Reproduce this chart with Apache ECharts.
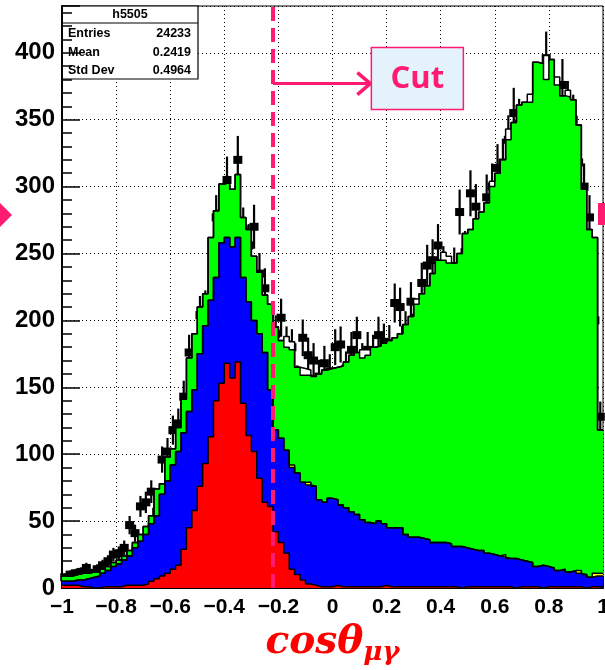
<!DOCTYPE html>
<html>
<head>
<meta charset="utf-8">
<title>cos theta mu gamma</title>
<script src="https://cdn.jsdelivr.net/npm/echarts@6/dist/echarts.min.js"></script>
<style>
  html, body { margin: 0; padding: 0; background: #fff; }
  #main { width: 605px; height: 670px; }
</style>
</head>
<body>
<div id="main"></div>
<script>
// histogram: 100 bins on [-1, 1]
var binLow = -1, binHigh = 1, nBins = 100;

// stacked MC, read as the top edge of each layer
var redTop = [
  2, 2, 2, 1, 1, 0, 0, 1, 1, 1,
  1, 2, 2, 2, 2, 3, 5, 7, 9, 11,
  14, 17, 29, 45, 58, 76, 93, 113, 140, 153,
  168, 157, 169, 138, 114, 102, 82, 64, 61, 42,
  34, 26, 14, 10, 6, 3, 2, 1, 1, 1,
  2, 1, 1, 1, 1, 1, 1, 1, 1, 2,
  1, 1, 1, 1, 1, 1, 1, 1, 1, 1,
  1, 1, 1, 0, 1, 1, 1, 1, 1, 1,
  1, 1, 1, 0, 1, 1, 1, 1, 0, 1,
  1, 1, 1, 1, 1, 1, 0, 1, 1, 1
];
var blueTop = [
  5, 5, 6, 6, 7, 8, 9, 11, 13, 16,
  18, 21, 24, 30, 35, 40, 48, 54, 70, 80,
  92, 102, 116, 132, 148, 175, 196, 215, 232, 258,
  262, 255, 262, 232, 214, 200, 190, 176, 148, 118,
  112, 103, 90, 86, 79, 77, 76, 66, 64, 67,
  66, 62, 60, 57, 55, 51, 49, 48, 50, 48,
  45, 45, 45, 40, 38, 38, 37, 36, 34, 34,
  34, 33, 31, 31, 30, 29, 28, 28, 26, 25,
  24, 23, 22, 22, 21, 20, 19, 16, 17, 16,
  15, 13, 14, 12, 13, 11, 10, 8, 9, 9
];
// thin yellow slice sitting on the blue one
var yellowPart = [
  0, 0, 0, 0, 0, 0, 0, 0, 0, 0,
  0, 0, 0, 0, 0, 0, 0, 0, 0, 0,
  0, 0, 0, 0, 0, 0, 0, 0, 0, 0,
  0, 0, 0, 0, 0, 0, 0, 0, 0, 0,
  0, 0, 2, 0, 0, 2, 0, 0, 0, 0,
  0, 0, 0, 0, 0, 0, 0, 0, 0, 0,
  0, 0, 0, 0, 0, 0, 0, 0, 0, 0,
  0, 0, 0, 0, 0, 0, 0, 0, 0, 0,
  0, 2, 0, 0, 0, 0, 0, 0, 0, 0,
  0, 0, 0, 0, 0, 2, 0, 0, 2, 2
];
var greenTop = [
  9, 9, 10, 11, 11, 12, 12, 14, 16, 19,
  21, 24, 28, 34, 40, 46, 54, 74, 78, 98,
  104, 120, 141, 172, 190, 210, 220, 262, 282, 302,
  303, 298, 309, 277, 268, 248, 236, 219, 212, 195,
  185, 180, 178, 165, 159, 159, 158, 160, 163, 164,
  165, 166, 169, 174, 176, 172, 174, 180, 181, 183,
  185, 187, 190, 197, 203, 212, 220, 226, 235, 245,
  245, 243, 243, 250, 265, 268, 276, 281, 288, 300,
  310, 320, 335, 348, 361, 363, 363, 393, 392, 380,
  395, 376, 368, 367, 365, 346, 298, 268, 262, 118
];
// white (unfilled) slice on top of the stack
var whitePart = [
  0, 0, 0, 0, 0, 0, 0, 0, 0, 0,
  0, 0, 0, 0, 0, 0, 0, 0, 0, 0,
  0, 0, 0, 0, 0, 0, 0, 0, 0, 0,
  0, 0, 0, 0, 0, 0, 0, 0, 0, 0,
  0, 8, 6, 0, 5, 4, 0, 0, 0, 0,
  0, 0, 0, 0, 0, 6, 4, 0, 0, 0,
  0, 0, 0, 0, 0, 4, 0, 0, 0, 0,
  6, 5, 0, 0, 0, 0, 0, 0, 0, 4,
  0, 0, 8, 0, 0, 0, 6, 0, 0, 18,
  0, 6, 0, 5, 0, 0, 0, 0, 0, 0
];
// data points
var dataCounts = [
  8, 10, 11, 12, 15, 11, 14, 17, 20, 25,
  26, 30, 47, 41, 61, 64, 72, 57, 96, 102,
  118, 123, 143, 176, 153, 204, 208, 206, 277, 280,
  305, 278, 320, 268, 256, 270, 235, 224, 183, 190,
  202, 182, 180, 154, 187, 174, 170, 158, 168, 162,
  180, 182, 164, 178, 189, 170, 178, 176, 189, 184,
  183, 213, 210, 193, 214, 202, 228, 241, 245, 256,
  240, 215, 239, 281, 251, 295, 285, 262, 292, 300,
  314, 318, 335, 355, 347, 334, 340, 366, 352, 396,
  368, 352, 376, 360, 350, 318, 300, 277, 200, 128
];

var statsTitle = "h5505";
var statsRows = [["Entries", "24233"], ["Mean", "0.2419"], ["Std Dev", "0.4964"]];

var cutValue = -0.22;
var arrowEnd = 0.14;
var arrowLevel = 377;
var pink = "#ff1a72";

var edges = [];
var centers = [];
for (var i = 0; i <= nBins; i++) {
  edges.push(binLow + (i * (binHigh - binLow)) / nBins);
}
for (var j = 0; j < nBins; j++) {
  centers.push((edges[j] + edges[j + 1]) / 2);
}

function stepData(vals) {
  var d = vals.map(function (v, k) { return [edges[k], v]; });
  d.push([edges[nBins], vals[nBins - 1]]);
  return d;
}

var yellowTop = blueTop.map(function (v, k) { return v + yellowPart[k]; });
var whiteTop = greenTop.map(function (v, k) { return v + whitePart[k]; });

function histSeries(name, vals, color) {
  return {
    name: name,
    type: "line",
    step: "end",
    symbol: "none",
    silent: true,
    data: stepData(vals),
    lineStyle: { color: "#000", width: 1.5 },
    areaStyle: { color: color, opacity: 1, origin: "start" },
  };
}

var font = "Liberation Sans, Arial, sans-serif";

var chart = echarts.init(document.getElementById("main"));

var option = {
  animation: false,
  backgroundColor: "#fff",
  grid: {
    left: 62,
    right: 2,
    top: 6,
    bottom: 82,
    show: true,
    borderColor: "#000",
    borderWidth: 1,
    containLabel: false,
    outerBoundsMode: "none",
  },
  xAxis: {
    type: "value",
    min: -1,
    max: 1,
    interval: 0.2,
    axisLine: { onZero: false, lineStyle: { color: "#000", width: 2 } },
    axisTick: { inside: true, length: 12, lineStyle: { color: "#000" } },
    splitLine: { show: true, lineStyle: { color: "#000", type: [1, 3], width: 1 } },
    axisLabel: {
      margin: 9,
      color: "#000",
      fontFamily: font,
      fontWeight: "bold",
      fontSize: 21,
      formatter: function (v) {
        var r = Math.round(v * 10) / 10;
        return r < 0 ? "\u2212" + Math.abs(r) : String(r);
      },
    },
    name: "{a|cos\u03b8}{b|\u03bc\u03b3}",
    nameLocation: "middle",
    nameGap: 28,
    nameTextStyle: {
      rich: {
        a: { fontFamily: "DejaVu Serif", fontStyle: "italic", fontWeight: "bold", fontSize: 39, color: "#ff0000" },
        b: { fontFamily: "DejaVu Serif", fontStyle: "italic", fontWeight: "bold", fontSize: 26, color: "#ff0000", padding: [22, 0, 0, 0] },
      },
    },
  },
  yAxis: {
    type: "value",
    min: 0,
    max: 435,
    interval: 50,
    axisLine: { show: true, onZero: false, lineStyle: { color: "#000", width: 2 } },
    axisTick: { inside: true, length: 18, lineStyle: { color: "#000", width: 1.5 } },
    minorTick: { show: true, splitNumber: 5, length: 10, lineStyle: { color: "#000", width: 1.5 } },
    splitLine: { show: true, lineStyle: { color: "#000", type: [1, 3], width: 1 } },
    axisLabel: {
      margin: 7,
      color: "#000",
      fontFamily: font,
      fontWeight: "bold",
      fontSize: 24,
      showMaxLabel: false,
      formatter: function (v) { return v % 50 === 0 ? String(v) : ""; },
    },
  },
  series: [
    histSeries("top", whiteTop, "#ffffff"),
    histSeries("green", greenTop, "#00ff00"),
    histSeries("yellow", yellowTop, "#ffff00"),
    histSeries("blue", blueTop, "#0000ff"),
    histSeries("red", redTop, "#ff0000"),
    {
      name: "errors",
      type: "custom",
      silent: true,
      clip: true,
      renderItem: function (params, api) {
        var x = api.value(0), v = api.value(1), e = api.value(2);
        var lo = api.coord([x, v - e]);
        var hi = api.coord([x, v + e]);
        return {
          type: "line",
          shape: { x1: lo[0], y1: lo[1], x2: hi[0], y2: hi[1] },
          style: { stroke: "#000", lineWidth: 2.2 },
        };
      },
      data: dataCounts.map(function (v, k) { return [centers[k], v, Math.sqrt(v)]; }),
    },
    {
      name: "data",
      type: "scatter",
      silent: true,
      symbol: "rect",
      symbolSize: [9, 8],
      itemStyle: { color: "#000", opacity: 1 },
      data: dataCounts.map(function (v, k) { return [centers[k], v]; }),
      markLine: {
        silent: true,
        symbol: ["none", "none"],
        label: { show: false },
        data: [
          { xAxis: cutValue, lineStyle: { color: pink, width: 4, type: [14, 7], opacity: 1 } },
          [
            { coord: [cutValue, arrowLevel], lineStyle: { color: pink, width: 3, type: "solid", opacity: 1 } },
            { coord: [arrowEnd, arrowLevel] },
          ],
        ],
      },
    },
  ],
};

chart.setOption(option);

// annotations
var tip = chart.convertToPixel({ gridIndex: 0 }, [arrowEnd, arrowLevel]);
var statsFont = "bold 12.5px " + font;
var statsChildren = [
  { type: "rect", shape: { x: 62, y: 6, width: 136, height: 73 }, style: { fill: "#fff", stroke: "#000", lineWidth: 1.2 } },
  { type: "line", shape: { x1: 62, y1: 23, x2: 198, y2: 23 }, style: { stroke: "#000", lineWidth: 1 } },
  { type: "text", x: 130, y: 15, style: { text: statsTitle, font: statsFont, fill: "#000", align: "center", verticalAlign: "middle" } },
];
statsRows.forEach(function (row, k) {
  var y = 34 + k * 18.5;
  statsChildren.push({ type: "text", x: 68, y: y, style: { text: row[0], font: statsFont, fill: "#000", align: "left", verticalAlign: "middle" } });
  statsChildren.push({ type: "text", x: 191, y: y, style: { text: row[1], font: statsFont, fill: "#000", align: "right", verticalAlign: "middle" } });
});

chart.setOption({
  graphic: [
    { type: "group", z: 100, children: statsChildren },
    {
      type: "polyline",
      z: 100,
      shape: { points: [[tip[0] - 13, tip[1] - 11], [tip[0], tip[1]], [tip[0] - 13, tip[1] + 11]] },
      style: { stroke: pink, lineWidth: 3.5, fill: null },
    },
    {
      type: "rect",
      z: 100,
      shape: { x: tip[0] + 1, y: tip[1] - 36, width: 92, height: 62 },
      style: { fill: "#e4f3fb", stroke: pink, lineWidth: 1.5 },
    },
    {
      type: "text",
      z: 101,
      x: tip[0] + 47,
      y: tip[1] - 4,
      style: { text: "Cut", font: "bold 31px Open Sans, sans-serif", fill: pink, align: "center", verticalAlign: "middle" },
    },
    { type: "polygon", z: 100, shape: { points: [[0, 203], [12, 215], [0, 227]] }, style: { fill: pink } },
    { type: "rect", z: 100, shape: { x: 598, y: 203, width: 7, height: 22 }, style: { fill: pink } },
  ],
});

window.addEventListener("resize", function () {
  chart.resize();
});
</script>
</body>
</html>
